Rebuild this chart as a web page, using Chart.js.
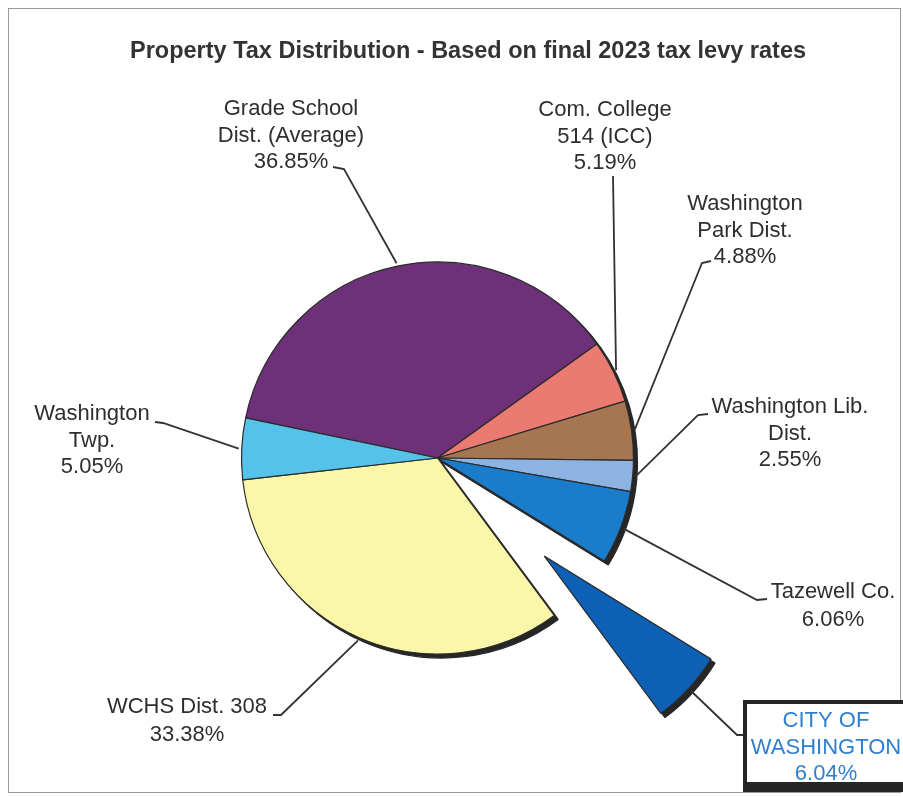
<!DOCTYPE html>
<html>
<head>
<meta charset="utf-8">
<script src="https://cdn.jsdelivr.net/npm/chart.js@4.4.1/dist/chart.umd.min.js"></script>
<style>
  html, body { margin: 0; padding: 0; background: #fff; }
  #wrap { position: relative; width: 903px; height: 797px; }
</style>
</head>
<body>
<div id="wrap"><canvas id="myChart" width="903" height="797"></canvas></div>
<script>
// data
const categories = [
  ['Grade School', 'Dist. (Average)'],
  ['Com. College', '514 (ICC)'],
  ['Washington', 'Park Dist.'],
  ['Washington Lib.', 'Dist.'],
  ['Tazewell Co.'],
  ['CITY OF', 'WASHINGTON'],
  ['WCHS Dist. 308'],
  ['Washington', 'Twp.']
];
const shares = [36.85, 5.19, 4.88, 2.55, 6.06, 6.04, 33.38, 5.05];
const sliceColors = ['#6e3079', '#eb7b70', '#a57650', '#8db3e3', '#1a7dcb', '#0d60b5', '#faf8a8', '#55c2ea'];
const chartTitle = 'Property Tax Distribution - Based on final 2023 tax levy rates';

// which slice is pulled out, and how far
const explodeIndex = 5;
const explodeBy = 145;

// label text centre x, first baseline, then the bend and end of its leader line
const labelPos = [
  { x: 291, y: 115, bend: [344, 169], end: [333, 167] },
  { x: 605, y: 116, bend: [613, 176], end: [613, 176] },
  { x: 745, y: 210, bend: [702, 263], end: [711, 261] },
  { x: 790, y: 413, bend: [698, 415], end: [708, 414] },
  { x: 833, y: 598, bend: [757, 600], end: [767, 599] },
  { x: 826, y: 727, bend: [737, 735], end: [743, 735] },
  { x: 187, y: 713, bend: [281, 715], end: [273, 715] },
  { x: 92,  y: 420, bend: [163, 423], end: [155, 422] }
];

const FONT = '"Liberation Sans", Arial, sans-serif';

const explodePlugin = {
  id: 'explode',
  afterDatasetsUpdate(chart) {
    const arc = chart.getDatasetMeta(0).data[explodeIndex];
    if (!arc) return;
    const mid = (arc.startAngle + arc.endAngle) / 2;
    arc.x += Math.cos(mid) * explodeBy;
    arc.y += Math.sin(mid) * explodeBy;
  },
  beforeDatasetsDraw(chart) {
    // flat drop shadow under the slices
    const ctx = chart.ctx;
    ctx.save();
    ctx.translate(4, 4);
    chart.getDatasetMeta(0).data.forEach(arc => {
      const o = arc.options;
      arc.options = Object.assign({}, o, { backgroundColor: '#262626', borderColor: '#262626' });
      arc.draw(ctx);
      arc.options = o;
    });
    ctx.restore();
  }
};

const labelPlugin = {
  id: 'labels',
  afterDraw(chart) {
    const ctx = chart.ctx;
    const arcs = chart.getDatasetMeta(0).data;
    ctx.save();

    // frame
    ctx.strokeStyle = '#9a9a9a';
    ctx.lineWidth = 1;
    ctx.strokeRect(8.5, 8.5, 892, 784);

    // title
    ctx.fillStyle = '#333';
    ctx.font = 'bold 23.5px ' + FONT;
    ctx.textAlign = 'center';
    ctx.textBaseline = 'alphabetic';
    ctx.fillText(chartTitle, 468, 58);

    // box round the city label
    ctx.fillStyle = '#262626';
    ctx.fillRect(743, 700, 170, 92);
    ctx.fillStyle = '#fff';
    ctx.fillRect(747, 704, 170, 78);

    arcs.forEach((arc, i) => {
      const p = labelPos[i];
      const mid = (arc.startAngle + arc.endAngle) / 2;
      const r = arc.outerRadius + 3;
      const ax = arc.x + Math.cos(mid) * r;
      const ay = arc.y + Math.sin(mid) * r;

      ctx.strokeStyle = '#333';
      ctx.lineWidth = 1.8;
      ctx.beginPath();
      ctx.moveTo(ax, ay);
      ctx.lineTo(p.bend[0], p.bend[1]);
      ctx.lineTo(p.end[0], p.end[1]);
      ctx.stroke();

      const lines = categories[i].concat([shares[i].toFixed(2) + '%']);
      ctx.fillStyle = i === explodeIndex ? '#2f7fcf' : '#2e2e2e';
      ctx.font = '22px ' + FONT;
      ctx.textAlign = 'center';
      const step = lines.length === 2 ? 28 : 26.5;
      lines.forEach((t, k) => ctx.fillText(t, p.x, p.y + k * step));
    });
    ctx.restore();
  }
};

const ctx = document.getElementById('myChart');

new Chart(ctx, {
  type: 'pie',
  data: {
    labels: categories,
    datasets: [{
      data: shares,
      backgroundColor: sliceColors,
      borderColor: '#2b2b2b',
      borderWidth: 1.2
    }]
  },
  options: {
    responsive: false,
    animation: false,
    rotation: -78.2,
    radius: 196,
    layout: { padding: { left: 0, right: 28, top: 119, bottom: 0 } },
    plugins: {
      legend: { display: false },
      title: { display: false },
      tooltip: { enabled: false }
    },
    events: []
  },
  plugins: [explodePlugin, labelPlugin]
});
</script>
</body>
</html>
